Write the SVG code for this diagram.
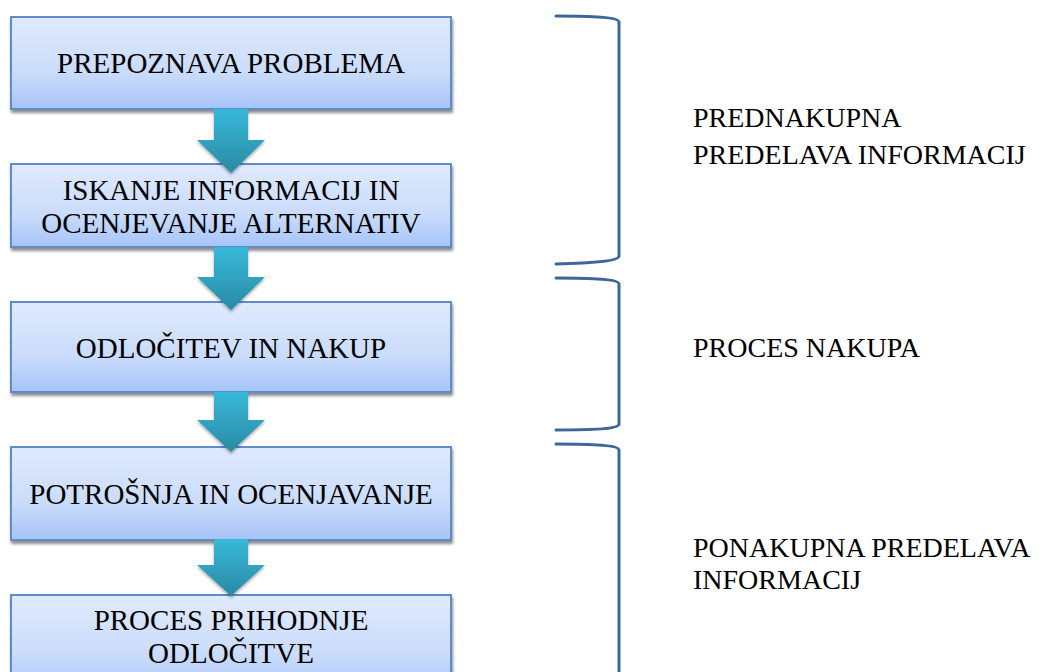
<svg xmlns="http://www.w3.org/2000/svg" width="1043" height="672" viewBox="0 0 1043 672">
<style>
.box{fill:url(#bg);stroke:#5f8bc8;stroke-width:2;filter:url(#sh)}
.arr{fill:url(#ag);filter:url(#sh2)}
.t{font-family:"Liberation Serif","Times New Roman",serif;font-size:28px;fill:#000}
.c{text-anchor:middle;font-size:29px}
.br{fill:none;stroke:#3d6699;stroke-width:3;stroke-linecap:round}
</style>
<defs>
<linearGradient id="bg" x1="0" y1="0" x2="0" y2="1">
<stop offset="0" stop-color="#dfeafd"/>
<stop offset="0.6" stop-color="#cadcfb"/>
<stop offset="1" stop-color="#a6c4f8"/>
</linearGradient>
<linearGradient id="ag" x1="0" y1="0" x2="0" y2="1">
<stop offset="0" stop-color="#37b9d9"/>
<stop offset="1" stop-color="#2a8aa4"/>
</linearGradient>
<filter id="sh" x="-5%" y="-10%" width="115%" height="130%">
<feGaussianBlur in="SourceAlpha" stdDeviation="1.5"/>
<feOffset dx="1" dy="3" result="b"/>
<feComponentTransfer><feFuncA type="linear" slope="0.45"/></feComponentTransfer>
<feMerge><feMergeNode/><feMergeNode in="SourceGraphic"/></feMerge>
</filter>
<filter id="sh2" x="-20%" y="-20%" width="140%" height="150%">
<feGaussianBlur in="SourceAlpha" stdDeviation="1.5"/>
<feOffset dx="0" dy="2" result="b"/>
<feComponentTransfer><feFuncA type="linear" slope="0.35"/></feComponentTransfer>
<feMerge><feMergeNode/><feMergeNode in="SourceGraphic"/></feMerge>
</filter>
</defs>

<g id="n1"><rect class="box" x="11" y="17" width="440" height="92"/><text class="t c" x="231" y="73">PREPOZNAVA PROBLEMA</text></g>
<g id="n2"><rect class="box" x="11" y="164" width="440" height="83"/><text class="t c" x="231" y="200">ISKANJE INFORMACIJ IN</text><text class="t c" x="231" y="233">OCENJEVANJE ALTERNATIV</text></g>
<g id="n3"><rect class="box" x="11" y="302" width="440" height="90"/><text class="t c" x="231" y="358">ODLOČITEV IN NAKUP</text></g>
<g id="n4"><rect class="box" x="11" y="447" width="440" height="93"/><text class="t c" x="231" y="504">POTROŠNJA IN OCENJAVANJE</text></g>
<g id="n5"><rect class="box" x="11" y="595" width="440" height="100"/><text class="t c" x="231" y="630">PROCES PRIHODNJE</text><text class="t c" x="231" y="663">ODLOČITVE</text></g>

<g id="connectors">
<path class="arr" d="M214 109 H248 V140 H265 L231 173 L197 140 H214 Z"/>
<path class="arr" d="M214 247 H248 V277 H265 L231 310 L197 277 H214 Z"/>
<path class="arr" d="M214 392 H248 V420 H265 L231 452 L197 420 H214 Z"/>
<path class="arr" d="M214 539 H248 V565 H265 L231 596 L197 565 H214 Z"/>
</g>

<g id="brackets">
<path class="br" d="M556 16 C592 16 619 17 619 22 L619 256 C619 261 592 263 556 264"/>
<path class="br" d="M556 278 C592 278 619 279 619 284 L619 424 C619 429 592 430 556 430"/>
<path class="br" d="M556 444 C592 444 619 445 619 450 L619 672"/>
</g>

<g id="labels">
<text class="t" x="693" y="127">PREDNAKUPNA</text>
<text class="t" x="693" y="164">PREDELAVA INFORMACIJ</text>
<text class="t" x="693" y="357">PROCES NAKUPA</text>
<text class="t" x="693" y="557">PONAKUPNA PREDELAVA</text>
<text class="t" x="693" y="589">INFORMACIJ</text>
</g>
</svg>
